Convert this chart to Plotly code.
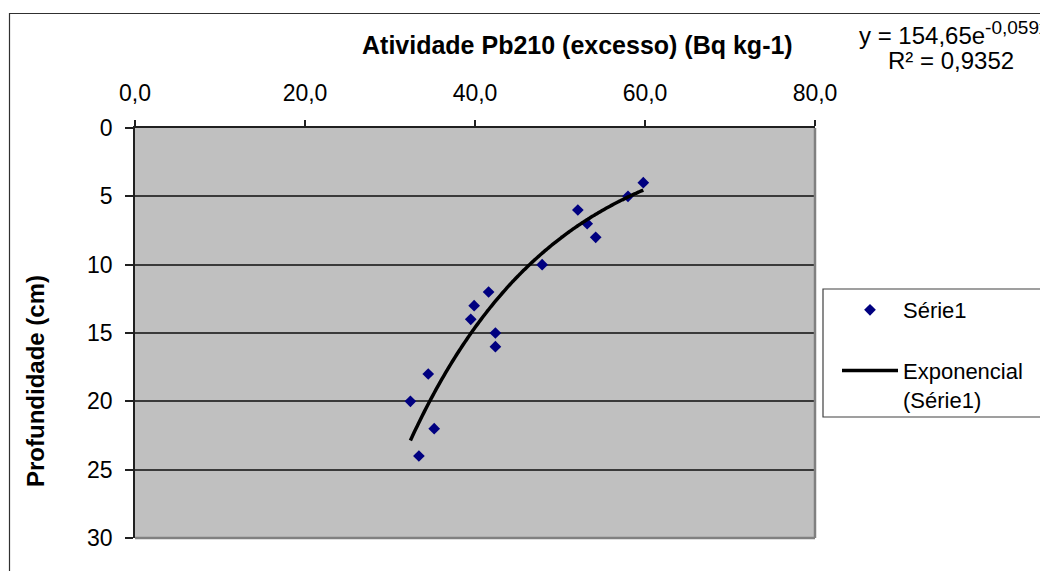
import numpy as np
import plotly.graph_objects as go

# Excess Pb-210 activity (Bq kg-1) against depth (cm)
atividade = [59.8, 58.0, 52.1, 53.2, 54.2, 47.9, 41.6, 39.9, 39.5, 42.4, 42.4, 34.5, 32.4, 35.2, 33.4]
profundidade = [4, 5, 6, 7, 8, 10, 12, 13, 14, 15, 16, 18, 20, 22, 24]

# Exponential trendline y = a * e^(b x)
coef_a = 154.65
coef_b = -0.059
r2_text = "0,9352"

x_ticks = [0, 20, 40, 60, 80]
y_ticks = [0, 5, 10, 15, 20, 25, 30]

FONT = "Liberation Sans, Arial, sans-serif"

# plot area in pixels
W, H = 1040, 571
L, R, T, B = 135, 815, 128, 538


def px(xp):
    return (xp - L) / (R - L)


def py(yp):
    return (B - yp) / (B - T)


x_fit = np.linspace(min(atividade), max(atividade), 120)
y_fit = coef_a * np.exp(coef_b * x_fit)

fig = go.Figure()
fig.add_trace(go.Scatter(
    x=atividade, y=profundidade, mode="markers", name="Série1",
    marker=dict(symbol="diamond", size=9, color="#000080",
                line=dict(width=0)),
    legendgroup="a",
))
fig.add_trace(go.Scatter(
    x=x_fit, y=y_fit, mode="lines", name="Exponencial<br>(Série1)",
    line=dict(color="black", width=3.5, shape="spline"),
    legendgroup="b",
))

fig.update_layout(
    width=W, height=H,
    margin=dict(l=L, r=W - R, t=T, b=H - B, autoexpand=False),
    paper_bgcolor="white",
    plot_bgcolor="#C0C0C0",
    separators=",.",
    font=dict(family=FONT, size=23, color="black"),
    showlegend=True,
    legend=dict(
        x=px(837), xanchor="left", y=py(289), yanchor="top",
        bgcolor="rgba(0,0,0,0)", borderwidth=0,
        font=dict(size=22), itemwidth=56, tracegroupgap=29,
        valign="top",
    ),
    xaxis=dict(
        side="top", range=[0, 80], tickvals=x_ticks, tickformat=".1f",
        showgrid=False, zeroline=False,
        showline=True, linecolor="#202020", linewidth=1.5,
        ticks="outside", ticklen=6, tickcolor="#202020", tickwidth=1.5,
        ticklabelstandoff=10,
    ),
    yaxis=dict(
        range=[30, 0], tickvals=y_ticks,
        showgrid=True, gridcolor="#3a3a3a", gridwidth=1.5,
        zeroline=False,
        showline=True, linecolor="#202020", linewidth=1.5,
        ticks="outside", ticklen=8, tickcolor="#202020", tickwidth=1.5,
        ticklabelstandoff=8,
    ),
    shapes=[
        # outer chart frame (continues past the page edge)
        dict(type="rect", xref="paper", yref="paper",
             x0=px(9.5), x1=px(1060), y0=py(13.5), y1=py(600),
             line=dict(color="#303030", width=1.2), layer="below"),
        # right and bottom edges of the plot area
        dict(type="line", xref="paper", yref="paper",
             x0=1, x1=1, y0=0, y1=1,
             line=dict(color="#808080", width=2.5)),
        dict(type="line", xref="paper", yref="paper",
             x0=0, x1=1, y0=0, y1=0,
             line=dict(color="#808080", width=2.5)),
        # legend box
        dict(type="rect", xref="paper", yref="paper",
             x0=px(823), x1=px(1060), y0=py(289), y1=py(417),
             line=dict(color="#404040", width=1.2), fillcolor="white",
             layer="below"),
    ],
    annotations=[
        dict(text="<b>Atividade Pb210 (excesso) (Bq kg-1)</b>",
             xref="paper", yref="paper", x=px(577), y=py(45),
             xanchor="center", yanchor="middle", showarrow=False,
             font=dict(size=25)),
        dict(text="<b>Profundidade (cm)</b>", textangle=-90,
             xref="paper", yref="paper", x=px(35), y=py(381),
             xanchor="center", yanchor="middle", showarrow=False,
             font=dict(size=24)),
        dict(text="y = 154,65e<sup><span style='font-size:19px'>-0,059x</span></sup>",
             xref="paper", yref="paper", x=px(857), y=py(33),
             xanchor="left", yanchor="middle", showarrow=False,
             font=dict(size=24)),
        dict(text="R² = " + r2_text,
             xref="paper", yref="paper", x=px(951), y=py(60),
             xanchor="center", yanchor="middle", showarrow=False,
             font=dict(size=24)),
    ],
)

fig.write_html("out.html")
